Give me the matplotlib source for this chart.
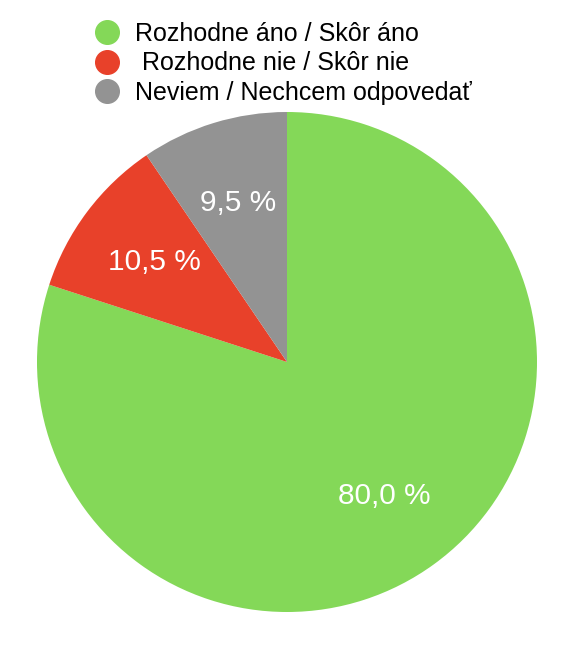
import matplotlib
matplotlib.use('Agg')
from matplotlib import pyplot as plt
from matplotlib.lines import Line2D

plt.rcParams['font.family'] = ['Liberation Sans', 'DejaVu Sans']

labels = ['Rozhodne áno / Skôr áno', ' Rozhodne nie / Skôr nie', 'Neviem / Nechcem odpovedať']
values = [80.0, 10.5, 9.5]
colors = ['#84D858', '#E8412A', '#939393']

fig = plt.figure(figsize=(5.74, 6.53), dpi=100)
ax = fig.add_axes([37/574, 41/653, 500/574, 500/653])

wedges, texts, autotexts = ax.pie(values, colors=colors, startangle=90, counterclock=False,
                                  autopct=lambda p: ('%.1f %%' % p).replace('.', ','),
                                  pctdistance=0.665, radius=1,
                                  textprops={'color': 'white', 'fontsize': 21.5})
ax.set_xlim(-1, 1)
ax.set_ylim(-1, 1)
ax.set_aspect('equal')

handles = [Line2D([], [], marker='o', linestyle='', markersize=17, color=c) for c in colors]
fig.legend(handles, labels, loc='upper left', bbox_to_anchor=(92/574, 1 - 22/653),
           frameon=False, fontsize=18, labelspacing=0.22, handletextpad=0.52,
           handlelength=1.2, borderpad=0, borderaxespad=0)

plt.savefig('out.png', dpi=100)
